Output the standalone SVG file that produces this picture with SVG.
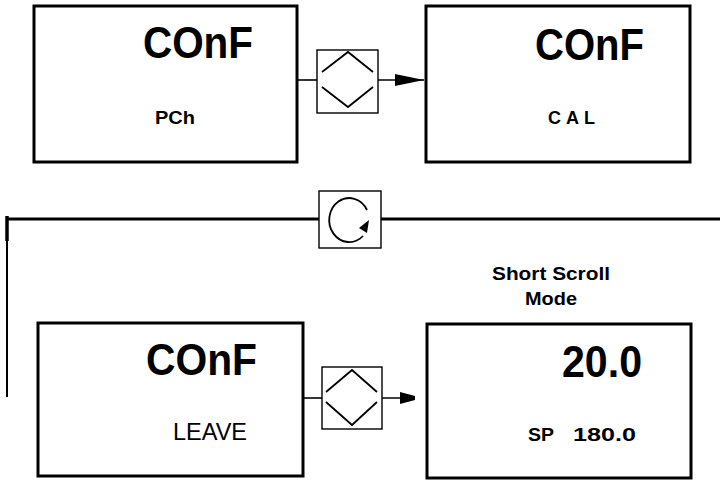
<svg xmlns="http://www.w3.org/2000/svg" width="720" height="480" viewBox="0 0 720 480">
<defs>
<style>
.box{fill:#fff;stroke:#000;stroke-width:3}
.key{fill:#fff;stroke:#000;stroke-width:1.4}
.chev{fill:none;stroke:#000;stroke-width:1.8}
.ln{fill:none;stroke:#000;stroke-width:1.6}
.big{font-family:"Liberation Sans",Arial,sans-serif;font-weight:bold;font-size:44px;fill:#000}
.sm{font-family:"Liberation Sans",Arial,sans-serif;font-weight:bold;font-size:18px;fill:#000}
.lbl{font-family:"Liberation Sans",Arial,sans-serif;font-weight:bold;font-size:19px;fill:#000}
.reg{font-family:"Liberation Sans",Arial,sans-serif;font-size:23px;fill:#000}
</style>
<marker id="arr" markerWidth="30" markerHeight="14" refX="29" refY="6" orient="auto" markerUnits="userSpaceOnUse">
<path d="M0,0 L29,6 L0,12 Z" fill="#000"/>
</marker>
<marker id="arr2" markerWidth="20" markerHeight="14" refX="15" refY="7" orient="auto" markerUnits="userSpaceOnUse">
<path d="M0,1 L15,5 L15,9 L0,13 Z" fill="#000"/>
</marker>
</defs>
<g id="connectors">
<line class="ln" x1="297" y1="80" x2="317" y2="80"/>
<line class="ln" x1="378" y1="80" x2="424" y2="80" marker-end="url(#arr)"/>
<line x1="6" y1="219" x2="319" y2="219" stroke="#000" stroke-width="3"/>
<line x1="381" y1="219" x2="720" y2="219" stroke="#000" stroke-width="3"/>
<line x1="7" y1="216" x2="7" y2="397" stroke="#000" stroke-width="2"/>
<line x1="7" y1="216" x2="7" y2="241" stroke="#000" stroke-width="3.5"/>
<line class="ln" x1="303" y1="398" x2="322" y2="398"/>
<line class="ln" x1="382" y1="398" x2="415" y2="398" marker-end="url(#arr2)"/>
</g>
<g id="node-conf-pch">
<rect class="box" x="34" y="6" width="263" height="156"/>
<text class="big" x="143" y="58" textLength="110" lengthAdjust="spacingAndGlyphs">COnF</text>
<text class="sm" x="155" y="124" textLength="40" lengthAdjust="spacingAndGlyphs">PCh</text>
</g>
<g id="key-top">
<rect class="key" x="317" y="50" width="61" height="63"/>
<polyline class="chev" points="322,72 348,52 373,72"/>
<polyline class="chev" points="322,87 348,107 373,87"/>
</g>
<g id="node-conf-cal">
<rect class="box" x="426" y="6" width="264" height="156"/>
<text class="big" x="535" y="60" textLength="109" lengthAdjust="spacingAndGlyphs">COnF</text>
<text class="sm" x="548" y="124" textLength="47" lengthAdjust="spacing">CAL</text>
</g>
<g id="key-cycle">
<rect class="key" x="319" y="191" width="62" height="57"/>
<path d="M367,210 A20,22 0 1 0 363,236" fill="none" stroke="#000" stroke-width="1.8"/>
<polygon points="369,220 359,228 367,233" fill="#000"/>
</g>
<g id="label-short-scroll">
<text class="lbl" x="551" y="280" text-anchor="middle" textLength="118" lengthAdjust="spacingAndGlyphs">Short Scroll</text>
<text class="lbl" x="551" y="305" text-anchor="middle" textLength="52" lengthAdjust="spacingAndGlyphs">Mode</text>
</g>
<g id="node-conf-leave">
<rect class="box" x="38" y="323" width="265" height="153"/>
<text class="big" x="146" y="375" textLength="111" lengthAdjust="spacingAndGlyphs">COnF</text>
<text class="reg" x="173" y="440" textLength="74" lengthAdjust="spacingAndGlyphs">LEAVE</text>
</g>
<g id="key-bottom">
<rect class="key" x="322" y="367" width="60" height="62"/>
<polyline class="chev" points="326,392 352,370 377,392"/>
<polyline class="chev" points="326,402 352,425 377,402"/>
</g>
<g id="node-short-scroll">
<rect class="box" x="427" y="324" width="264" height="154"/>
<text class="big" x="562" y="377" textLength="80" lengthAdjust="spacingAndGlyphs">20.0</text>
<text class="sm" x="528" y="441" textLength="26" lengthAdjust="spacingAndGlyphs">SP</text>
<text class="sm" x="573" y="441" textLength="63" lengthAdjust="spacingAndGlyphs">180.0</text>
</g>
</svg>
